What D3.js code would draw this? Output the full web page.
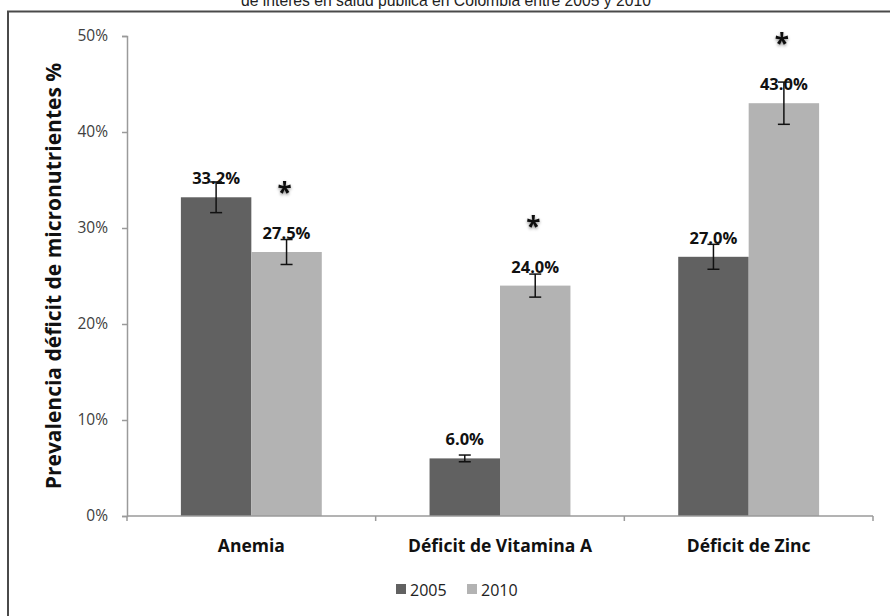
<!DOCTYPE html>
<html>
<head>
<meta charset="utf-8">
<script src="https://cdn.jsdelivr.net/npm/d3@7"></script>
<style>
  body { margin: 0; background: #fff; }
  svg { display: block; }
</style>
</head>
<body>
<svg id="chart"></svg>
<script>
var categories = ["Anemia", "Déficit de Vitamina A", "Déficit de Zinc"];
var years = ["2005", "2010"];
var values2005 = [33.2, 6.0, 27.0];
var values2010 = [27.5, 24.0, 43.0];
var err2005 = [1.6, 0.35, 1.3];
var err2010 = [1.3, 1.2, 2.2];
var signif = [true, true, true]; // asterisco sobre 2010
var yTicks = [0, 10, 20, 30, 40, 50];
var colors = ["#616161", "#b3b3b3"];

var width = 890, height = 616;
var mLeft = 127, mRight = 873, mTop = 36, mBottom = 516;
var font = "'Open Sans', Lato, sans-serif";

var svg = d3.select("#chart").attr("width", width).attr("height", height);

// build rows from arrays
var rows = [];
categories.forEach(function(c, i) {
  rows.push({cat: c, year: "2005", v: values2005[i], e: err2005[i]});
  rows.push({cat: c, year: "2010", v: values2010[i], e: err2010[i], sig: signif[i]});
});

// title (cut off at top) and frame
svg.append("text").attr("x", 446).attr("y", 5.5).attr("text-anchor", "middle")
  .style("font-family", "'Liberation Sans', Arial, sans-serif").style("font-size", "15.7px").attr("fill", "#222")
  .text("de interés en salud pública en Colombia entre 2005 y 2010");
svg.append("path").attr("d", "M8,616 V11.5 H890").attr("fill", "none")
  .attr("stroke", "#4a4a4a").attr("stroke-width", 2);

var x0 = d3.scaleBand().domain(categories).range([mLeft, mRight]).padding(0);
var x1 = d3.scaleBand().domain(years).range([0, x0.bandwidth()]).paddingInner(0).paddingOuter(0.765);
var y = d3.scaleLinear().domain([0, 50]).range([mBottom, mTop]);

// y axis
var yAxis = svg.append("g").attr("transform", "translate(" + mLeft + ",0)")
  .call(d3.axisLeft(y).tickValues(yTicks).tickSize(5).tickPadding(14).tickFormat(function(d) { return d + "%"; }));
yAxis.select(".domain").attr("stroke", "#9a9a9a").attr("stroke-width", 1.5);
yAxis.selectAll(".tick line").attr("stroke", "#9a9a9a").attr("stroke-width", 1.5);
yAxis.selectAll(".tick text").style("font-family", font).style("font-size", "15.5px").attr("fill", "#404040");

// bars
var g = svg.append("g");
g.selectAll("rect").data(rows).enter().append("rect")
  .attr("x", function(d) { return x0(d.cat) + x1(d.year); })
  .attr("y", function(d) { return y(d.v); })
  .attr("width", x1.bandwidth())
  .attr("height", function(d) { return y(0) - y(d.v); })
  .attr("fill", function(d) { return colors[years.indexOf(d.year)]; });

// x axis (ticks between categories)
var xAxis = svg.append("g").attr("transform", "translate(0," + mBottom + ")");
xAxis.append("line").attr("x1", mLeft).attr("x2", mRight).attr("stroke", "#9a9a9a").attr("stroke-width", 1.5);
var bounds = categories.map(function(c) { return x0(c); }).concat([mRight]);
xAxis.selectAll(".tk").data(bounds).enter().append("line")
  .attr("x1", function(d) { return d; }).attr("x2", function(d) { return d; })
  .attr("y1", 0).attr("y2", 5).attr("stroke", "#9a9a9a").attr("stroke-width", 1.5);
xAxis.selectAll(".lbl").data(categories).enter().append("text")
  .attr("x", function(d) { return x0(d) + x0.bandwidth() / 2; })
  .attr("y", 36).attr("text-anchor", "middle")
  .style("font-family", font).style("font-weight", "bold").style("font-size", "17.5px").attr("fill", "#111")
  .text(function(d) { return d; });

// error bars
var eb = g.selectAll(".err").data(rows).enter().append("g")
  .attr("transform", function(d) { return "translate(" + (x0(d.cat) + x1(d.year) + x1.bandwidth() / 2) + ",0)"; })
  .attr("stroke", "#111").attr("stroke-width", 1.5);
eb.append("line").attr("y1", function(d) { return y(d.v + d.e); }).attr("y2", function(d) { return y(d.v - d.e); });
eb.append("line").attr("x1", -6).attr("x2", 6).attr("y1", function(d) { return y(d.v + d.e); }).attr("y2", function(d) { return y(d.v + d.e); });
eb.append("line").attr("x1", -6).attr("x2", 6).attr("y1", function(d) { return y(d.v - d.e); }).attr("y2", function(d) { return y(d.v - d.e); });

// data labels
g.selectAll(".val").data(rows).enter().append("text")
  .attr("x", function(d) { return x0(d.cat) + x1(d.year) + x1.bandwidth() / 2; })
  .attr("y", function(d) { return y(d.v) - 13; })
  .attr("text-anchor", "middle")
  .style("font-family", font).style("font-weight", "bold").style("font-size", "16.5px").attr("fill", "#111")
  .text(function(d) { return d.v.toFixed(1) + "%"; });

// asterisks
var defs = svg.append("defs");
var f = defs.append("filter").attr("id", "sh").attr("x", "-50%").attr("y", "-50%").attr("width", "200%").attr("height", "200%");
f.append("feDropShadow").attr("dx", 0).attr("dy", 1.5).attr("stdDeviation", 1.5).attr("flood-color", "#000").attr("flood-opacity", 0.45);
g.selectAll(".ast").data(rows.filter(function(d) { return d.sig; })).enter().append("text")
  .attr("x", function(d) { return x0(d.cat) + x1(d.year) + x1.bandwidth() / 2 - 2; })
  .attr("y", function(d) { return y(d.v) - 50; })
  .attr("text-anchor", "middle").attr("filter", "url(#sh)")
  .style("font-family", font).style("font-weight", "bold").style("font-size", "26px").attr("fill", "#111")
  .text("*");

// y axis title
svg.append("text").attr("transform", "translate(61,276) rotate(-90)").attr("text-anchor", "middle")
  .style("font-family", font).style("font-weight", "bold").style("font-size", "21px").attr("fill", "#111")
  .text("Prevalencia déficit de micronutrientes %");

// legend
var leg = svg.append("g").attr("transform", "translate(396,584)");
var li = leg.selectAll("g").data(years).enter().append("g")
  .attr("transform", function(d, i) { return "translate(" + (i * 71) + ",0)"; });
li.append("rect").attr("width", 10).attr("height", 10).attr("fill", function(d, i) { return colors[i]; });
li.append("text").attr("x", 14).attr("y", 12)
  .style("font-family", font).style("font-size", "16px").attr("fill", "#222")
  .text(function(d) { return d; });
</script>
</body>
</html>
